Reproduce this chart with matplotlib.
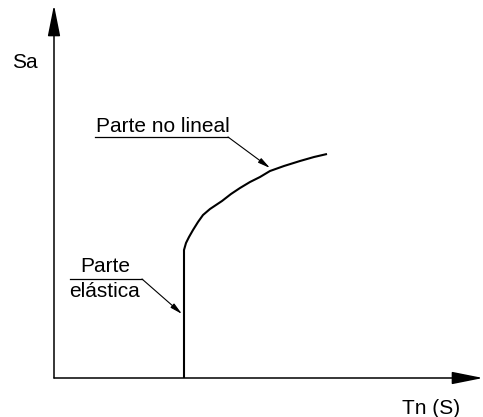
import matplotlib
matplotlib.use("Agg")
import matplotlib.pyplot as plt

plt.rcParams["font.family"] = ["Liberation Sans", "DejaVu Sans"]

# curve: elastic (vertical) part then non-linear part
TN_CURVE = [130, 130, 132, 135, 139, 144, 149, 156, 162, 168, 177, 186,
            196, 206, 216, 230, 246, 260, 273]
SA_CURVE = [0, 128, 135, 141, 148, 156, 163, 169, 173, 177, 184, 190,
            196, 201, 207, 212, 217, 221, 224]

X_MAX = 429
Y_MAX = 373

LABEL_X = "Tn (S)"
LABEL_Y = "Sa"
NOTE_NONLINEAR = "Parte no lineal"
NOTE_ELASTIC = ["Parte", "elástica"]


def main():
    fig = plt.figure(figsize=(4.83, 4.17), dpi=100)
    ax = fig.add_axes([0, 0, 1, 1])
    ax.set_xlim(-54, 429)
    ax.set_ylim(-39, 378)
    ax.axis("off")

    # axes with arrows
    axis_arrow = dict(arrowstyle="-|>,head_length=1.6,head_width=0.32",
                      mutation_scale=12, lw=1.1, color="black",
                      shrinkA=0, shrinkB=0)
    ax.annotate("", xy=(X_MAX, 0), xytext=(0, 0), arrowprops=axis_arrow)
    ax.annotate("", xy=(0, Y_MAX), xytext=(0, 0), arrowprops=axis_arrow)

    ax.plot(TN_CURVE, SA_CURVE, color="black", lw=1.5,
            solid_joinstyle="round", solid_capstyle="butt")

    ax.text(-42, 310, LABEL_Y, fontsize=15, ha="left", va="baseline")
    ax.text(348, -36, LABEL_X, fontsize=15, ha="left", va="baseline")

    small_arrow = dict(arrowstyle="-|>,head_length=0.9,head_width=0.2",
                       mutation_scale=8, lw=0.8, color="black",
                       shrinkA=0, shrinkB=0)

    # non-linear part note
    ax.text(42, 246, NOTE_NONLINEAR, fontsize=15, ha="left", va="baseline")
    ax.plot([41, 174], [241, 241], color="black", lw=0.9)
    ax.annotate("", xy=(216, 210), xytext=(174, 241), arrowprops=small_arrow)

    # elastic part note
    ax.text(51.5, 106, NOTE_ELASTIC[0], fontsize=15, ha="center", va="baseline")
    ax.text(51, 81, NOTE_ELASTIC[1], fontsize=15, ha="center", va="baseline")
    ax.plot([16, 88], [99, 99], color="black", lw=0.9)
    ax.annotate("", xy=(128, 64), xytext=(88, 99), arrowprops=small_arrow)

    fig.savefig("out.png", dpi=100)
    plt.close(fig)


if __name__ == "__main__":
    main()
